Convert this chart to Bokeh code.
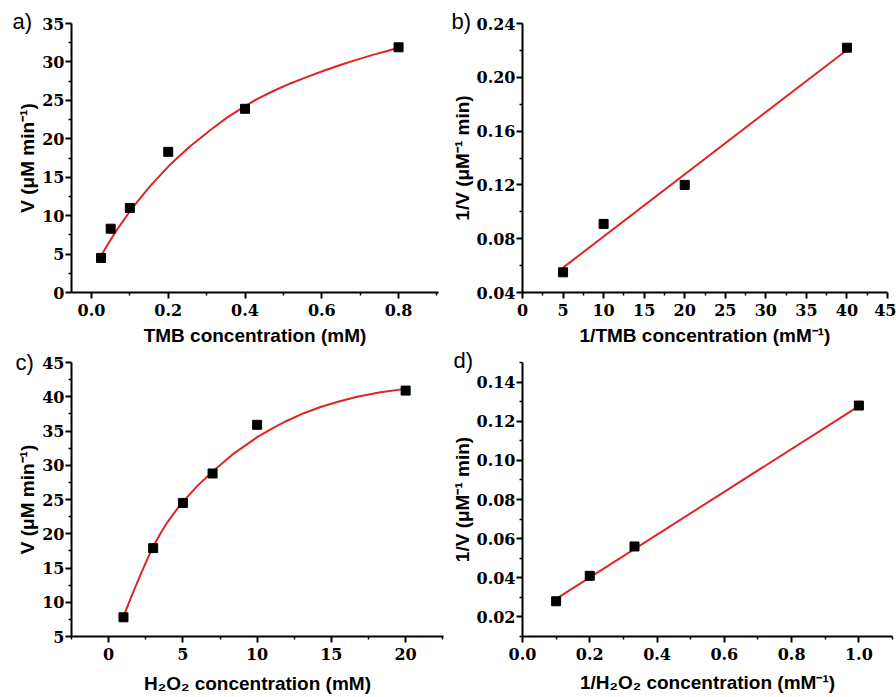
from bokeh.plotting import figure
from bokeh.models import FixedTicker, PrintfTickFormatter, Range1d
from bokeh.layouts import column, row
from bokeh.embed import file_html
from bokeh.resources import INLINE

# ---- data ----
a_x = [0.025, 0.05, 0.1, 0.2, 0.4, 0.8]
a_y = [4.5, 8.3, 11.0, 18.3, 23.9, 31.9]
a_fit_x = [0.023, 0.041, 0.0625, 0.1016, 0.1276, 0.154, 0.18, 0.206, 0.232, 0.258, 0.284, 0.31,
           0.353, 0.397, 0.431, 0.475, 0.518, 0.562, 0.605, 0.648, 0.692, 0.735, 0.761, 0.80]
a_fit_y = [4.6, 6.15, 7.88, 10.67, 12.3, 13.9, 15.3, 16.7, 17.9, 19.06, 20.1, 21.15,
           22.75, 24.15, 25.15, 26.25, 27.2, 28.05, 28.85, 29.6, 30.3, 30.95, 31.3, 31.85]

b_x = [5, 10, 20, 40]
b_y = [0.055, 0.091, 0.120, 0.222]
b_fit_x = [5, 40]
b_fit_y = [0.0585, 0.2203]

c_x = [1, 3, 5, 7, 10, 20]
c_y = [7.8, 17.9, 24.5, 28.8, 35.9, 40.9]
c_fit_x = [1.0, 1.35, 1.69, 2.25, 2.92, 3.48, 3.93, 4.43, 4.94, 5.96, 6.97, 8.42, 10.0,
           11.12, 12.02, 13.14, 14.27, 15.5, 16.74, 18.31, 20.0]
c_fit_y = [7.9, 9.85, 11.65, 14.54, 17.8, 20.0, 21.6, 23.1, 24.5, 26.95, 29.0, 31.7, 34.1,
           35.5, 36.5, 37.6, 38.5, 39.3, 40.0, 40.65, 41.15]

d_x = [0.1, 0.2, 0.333, 1.0]
d_y = [0.028, 0.041, 0.056, 0.128]
d_fit_x = [0.1, 1.0]
d_fit_y = [0.0292, 0.1277]

a_xticks = [0.0, 0.2, 0.4, 0.6, 0.8]
a_xminor = [0.1, 0.3, 0.5, 0.7, 0.9]
a_yticks = [0, 5, 10, 15, 20, 25, 30, 35]
a_yminor = [2.5, 7.5, 12.5, 17.5, 22.5, 27.5, 32.5]
b_xticks = [0, 5, 10, 15, 20, 25, 30, 35, 40, 45]
b_xminor = [2.5, 7.5, 12.5, 17.5, 22.5, 27.5, 32.5, 37.5, 42.5]
b_yticks = [0.04, 0.08, 0.12, 0.16, 0.20, 0.24]
b_yminor = [0.06, 0.10, 0.14, 0.18, 0.22]
c_xticks = [0, 5, 10, 15, 20]
c_xminor = [-2.5, 2.5, 7.5, 12.5, 17.5, 22.5]
c_yticks = [5, 10, 15, 20, 25, 30, 35, 40, 45]
c_yminor = [7.5, 12.5, 17.5, 22.5, 27.5, 32.5, 37.5, 42.5]
d_xticks = [0.0, 0.2, 0.4, 0.6, 0.8, 1.0]
d_xminor = [0.1, 0.3, 0.5, 0.7, 0.9, 1.1]
d_yticks = [0.02, 0.04, 0.06, 0.08, 0.10, 0.12, 0.14]
d_yminor = [0.01, 0.03, 0.05, 0.07, 0.09, 0.11, 0.13, 0.15]

RED = "#e02424"


def panel(w, h, bl, br, bt, bb, xr, yr, xt, xm, yt, ym, xfmt, yfmt, xlab, ylab, letter,
          fx, fy, px, py, xstand, tstand, toff):
    p = figure(width=w, height=h, x_range=Range1d(*xr), y_range=Range1d(*yr),
               output_backend="svg", toolbar_location=None,
               min_border_left=bl, min_border_right=br, min_border_top=bt, min_border_bottom=bb)
    p.outline_line_color = None
    p.grid.visible = False
    p.xaxis.ticker = FixedTicker(ticks=xt, minor_ticks=xm)
    p.yaxis.ticker = FixedTicker(ticks=yt, minor_ticks=ym)
    p.xaxis.formatter = PrintfTickFormatter(format=xfmt)
    p.yaxis.formatter = PrintfTickFormatter(format=yfmt)
    p.xaxis.axis_label = xlab
    p.yaxis.axis_label = ylab
    for ax in (p.xaxis[0], p.yaxis[0]):
        ax.axis_line_width = 2
        ax.axis_line_color = "black"
        ax.major_tick_in = 0
        ax.major_tick_out = 6
        ax.minor_tick_in = 0
        ax.minor_tick_out = 3
        ax.major_tick_line_width = 2
        ax.minor_tick_line_width = 1.5
        ax.major_tick_line_color = "black"
        ax.minor_tick_line_color = "black"
        ax.major_label_text_font = "DejaVu Serif"
        ax.major_label_text_font_style = "bold"
        ax.major_label_text_font_size = "16px"
        ax.major_label_text_color = "black"
        ax.axis_label_text_font = "Liberation Sans"
        ax.axis_label_text_font_style = "bold"
        ax.axis_label_text_font_size = "19px"
        ax.axis_label_text_color = "black"
    p.xaxis.major_label_standoff = 5
    p.xaxis.axis_label_standoff = xstand
    p.yaxis.major_label_standoff = 1
    p.yaxis.axis_label_standoff = 1
    p.line(fx, fy, line_color=RED, line_width=2)
    p.scatter(px, py, marker="square", size=9, fill_color="black", line_color="black")
    p.title.text = letter
    p.title.align = "left"
    p.title.offset = toff
    p.title.standoff = tstand
    p.title.text_font = "Liberation Sans"
    p.title.text_font_style = "normal"
    p.title.text_font_size = "22px"
    p.title.text_color = "black"
    return p


pa = panel(448, 348, 71, 10, 23, 54, (-0.052, 0.904), (0, 35), a_xticks, a_xminor, a_yticks, a_yminor,
           "%.1f", "%d", "TMB concentration (mM)", "V (μM min⁻¹)", "a)",
           a_fit_x, a_fit_y, a_x, a_y, 6, -20, -59)
pb = panel(448, 348, 72, 9, 23, 54, (0, 45), (0.04, 0.24), b_xticks, b_xminor, b_yticks, b_yminor,
           "%d", "%.2f", "1/TMB concentration (mM⁻¹)", "1/V (μM⁻¹ min)", "b)",
           b_fit_x, b_fit_y, b_x, b_y, 6, -20, -71)
pc = panel(448, 349, 71, 5, 11, 61, (-2.5, 22.55), (5, 45), c_xticks, c_xminor, c_yticks, c_yminor,
           "%d", "%d", "H₂O₂ concentration (mM)", "V (μM min⁻¹)", "c)",
           c_fit_x, c_fit_y, c_x, c_y, 10, -24, -56)
pd_ = panel(448, 349, 71, 4, 14, 59, (0, 1.1), (0.01, 0.15), d_xticks, d_xminor, d_yticks, d_yminor,
            "%.1f", "%.2f", "1/H₂O₂ concentration (mM⁻¹)", "1/V (μM⁻¹ min)", "d)",
            d_fit_x, d_fit_y, d_x, d_y, 9, -20, -69)

layout = column(row(pa, pb), row(pc, pd_))
open("out.html", "w").write(file_html(layout, INLINE))
